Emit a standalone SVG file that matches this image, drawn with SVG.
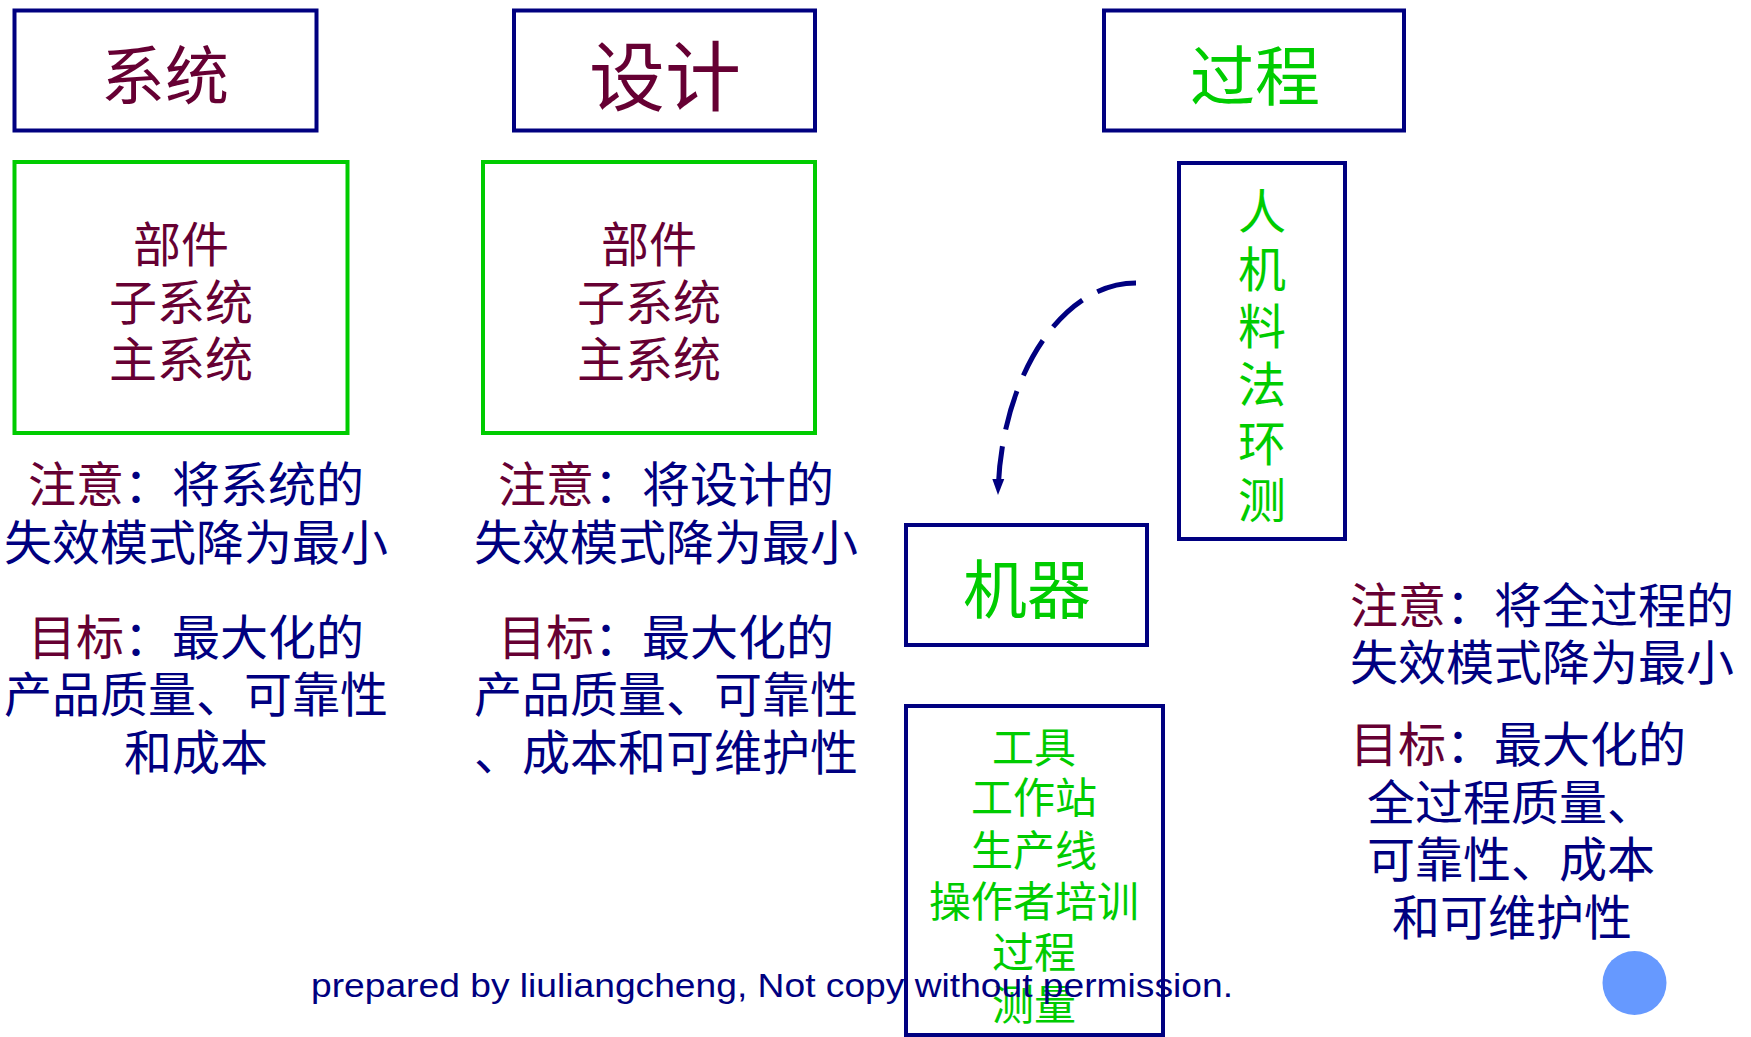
<svg xmlns="http://www.w3.org/2000/svg" width="1751" height="1037" viewBox="0 0 1751 1037">
<style>
.bx{fill:#fff;stroke:#000080;stroke-width:4}
.gb{fill:#fff;stroke:#00cc00;stroke-width:4}
.t{font-family:"Liberation Serif","Noto Sans CJK SC",serif}
.c{text-anchor:middle}
.m{fill:#660033}
.n{fill:#000080}
.g{fill:#00cc00}
.f48{font-size:48px}
</style>
<defs>
<marker id="ah" markerUnits="userSpaceOnUse" markerWidth="18" markerHeight="14" refX="16" refY="6" orient="auto" viewBox="0 0 18 12">
<path d="M0,0 L16,6 L0,12 Z" fill="#000080"/>
</marker>
</defs>
<rect width="1751" height="1037" fill="#fff"/>

<g id="node-xitong">
<rect class="bx" x="14.5" y="10.5" width="302" height="120"/>
<text class="t c m" x="165" y="99" font-size="64">系统</text>
</g>
<g id="node-sheji">
<rect class="bx" x="514" y="10.5" width="301" height="120"/>
<text class="t c m" x="665" y="105" font-size="76">设计</text>
</g>
<g id="node-guocheng">
<rect class="bx" x="1104" y="10.5" width="300" height="120"/>
<text class="t c g" x="1255" y="100" font-size="65">过程</text>
</g>

<g id="node-sys-parts">
<rect class="gb" x="14.5" y="162" width="333" height="271"/>
<text class="t c m f48" x="181" y="262">部件</text>
<text class="t c m f48" x="181" y="320">子系统</text>
<text class="t c m f48" x="181" y="377">主系统</text>
</g>
<g id="node-design-parts">
<rect class="gb" x="483" y="162" width="332" height="271"/>
<text class="t c m f48" x="649" y="262">部件</text>
<text class="t c m f48" x="649" y="320">子系统</text>
<text class="t c m f48" x="649" y="377">主系统</text>
</g>

<g id="node-5m1e">
<rect class="bx" x="1179" y="163" width="166" height="376"/>
<text class="t c g f48" x="1262" y="229">人</text>
<text class="t c g f48" x="1262" y="287">机</text>
<text class="t c g f48" x="1262" y="344">料</text>
<text class="t c g f48" x="1262" y="402">法</text>
<text class="t c g f48" x="1262" y="461">环</text>
<text class="t c g f48" x="1262" y="518">测</text>
</g>

<g id="node-jiqi">
<rect class="bx" x="906" y="525" width="241" height="120"/>
<text class="t c g" x="1027" y="613" font-size="64">机器</text>
</g>

<g id="node-machine-items">
<rect class="bx" x="906" y="706" width="257" height="329"/>
<text class="t c g" x="1034" y="763" font-size="42">工具</text>
<text class="t c g" x="1034" y="813" font-size="42">工作站</text>
<text class="t c g" x="1034" y="866" font-size="42">生产线</text>
<text class="t c g" x="1034" y="917" font-size="42">操作者培训</text>
<text class="t c g" x="1034" y="968" font-size="42">过程</text>
<text class="t c g" x="1034" y="1020" font-size="42">测量</text>
</g>

<g id="note-system">
<text class="t c n f48" x="196" y="502"><tspan class="m">注意</tspan>：将系统的</text>
<text class="t c n f48" x="196" y="560">失效模式降为最小</text>
<text class="t c n f48" x="196" y="655"><tspan class="m">目标</tspan>：最大化的</text>
<text class="t c n f48" x="196" y="712">产品质量、可靠性</text>
<text class="t c n f48" x="196" y="770">和成本</text>
</g>
<g id="note-design">
<text class="t c n f48" x="666" y="502"><tspan class="m">注意</tspan>：将设计的</text>
<text class="t c n f48" x="666" y="560">失效模式降为最小</text>
<text class="t c n f48" x="666" y="655"><tspan class="m">目标</tspan>：最大化的</text>
<text class="t c n f48" x="666" y="712">产品质量、可靠性</text>
<text class="t c n f48" x="666" y="770">、成本和可维护性</text>
</g>
<g id="note-process">
<text class="t n f48" x="1350" y="623"><tspan class="m">注意</tspan>：将全过程的</text>
<text class="t n f48" x="1350" y="680">失效模式降为最小</text>
<text class="t n f48" x="1350" y="762"><tspan class="m">目标</tspan>：最大化的</text>
<text class="t n f48" x="1367" y="820">全过程质量、</text>
<text class="t n f48" x="1367" y="877">可靠性、成本</text>
<text class="t n f48" x="1392" y="935">和可维护性</text>
</g>

<g id="connectors">
<path d="M1136,283 C1060,283 1000,380 998,495" fill="none" stroke="#000080" stroke-width="5" stroke-dasharray="40 17" marker-end="url(#ah)"/>
</g>

<circle id="dot" cx="1634.5" cy="983" r="32" fill="#6699ff"/>

<text x="311" y="997" font-family="'Liberation Sans',Arial,sans-serif" font-size="33" fill="#000080" textLength="922" lengthAdjust="spacingAndGlyphs">prepared by liuliangcheng, Not copy without permission.</text>
</svg>
